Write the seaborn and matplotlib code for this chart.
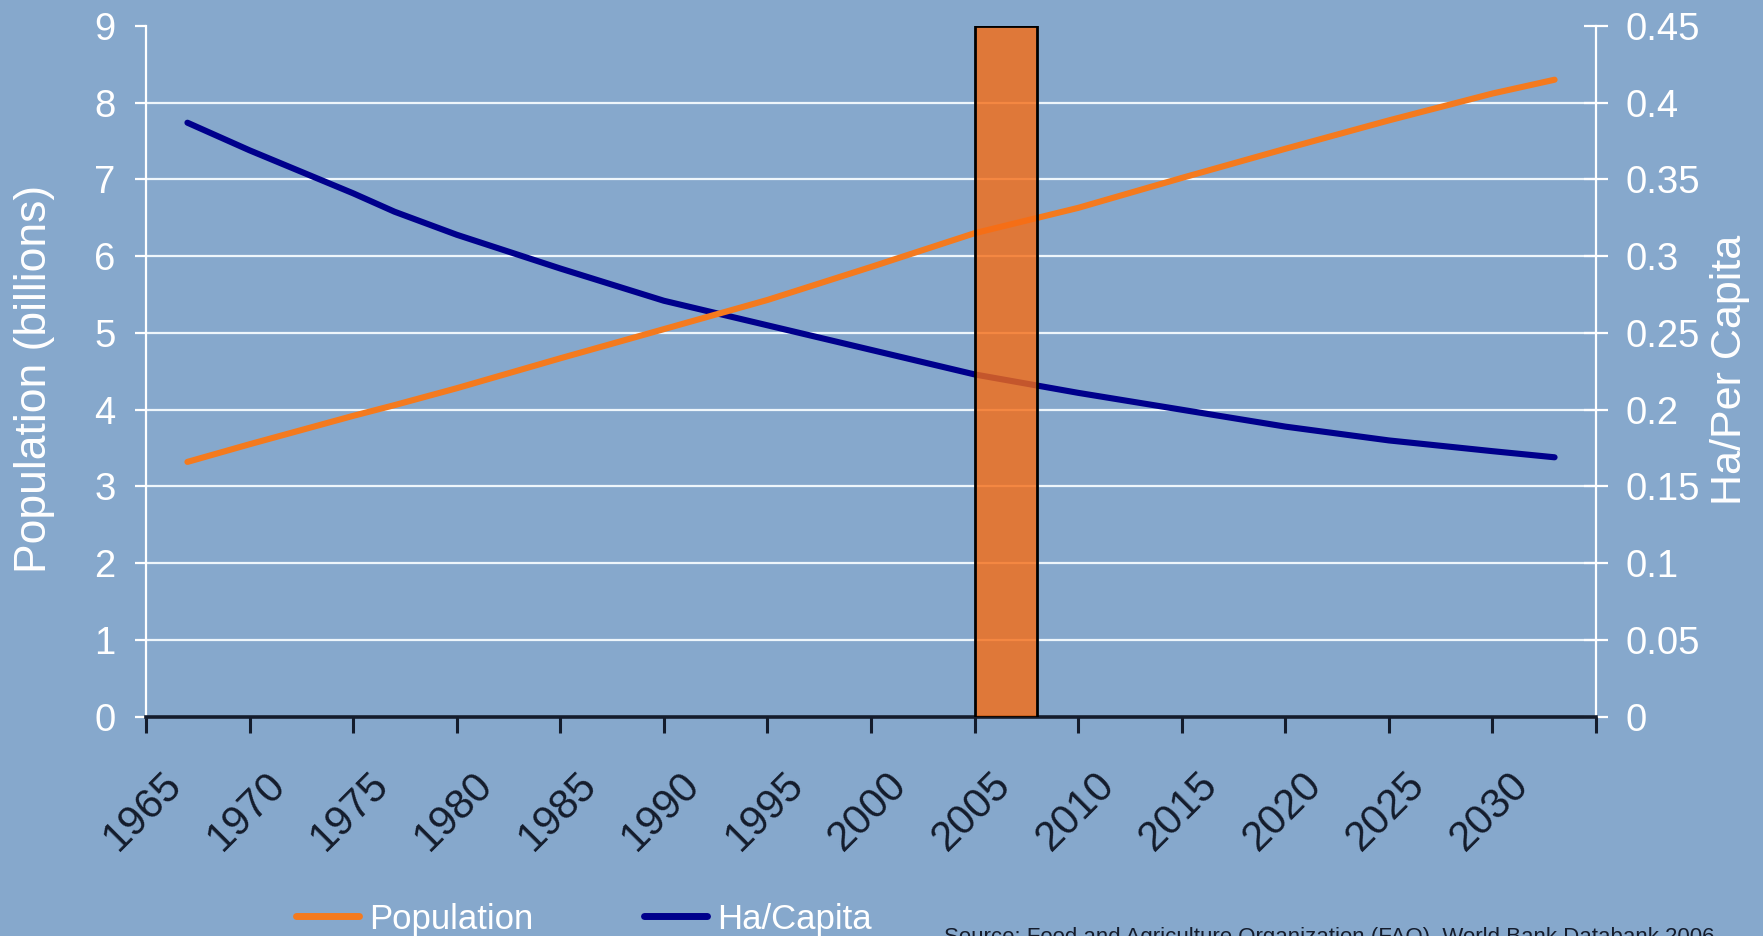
import numpy as np
import pandas as pd
import matplotlib
matplotlib.use("Agg")
import matplotlib.pyplot as plt
from matplotlib.lines import Line2D
from matplotlib.transforms import ScaledTranslation
import seaborn as sns

# ---- data -------------------------------------------------------------
years = [1967, 1970, 1975, 1977, 1980, 1985, 1990, 1995, 2000, 2005, 2010,
         2015, 2020, 2025, 2030, 2033]
population = [3.32, 3.55, 3.92, 4.06, 4.28, 4.67, 5.05, 5.43, 5.86, 6.30, 6.63,
              7.02, 7.40, 7.77, 8.12, 8.30]
ha_per_capita = [0.387, 0.369, 0.341, 0.329, 0.314, 0.292, 0.271, 0.255, 0.239,
                 0.223, 0.211, 0.200, 0.189, 0.180, 0.173, 0.169]

# highlighted period (left-axis units)
marker_start = 2005
marker_span = 3
marker_height = 9

tick_years = list(range(1965, 2036, 5))
tick_labels = [str(y) for y in range(1965, 2031, 5)] + [""]
left_ticks = list(range(0, 10))
right_ticks = [0, 0.05, 0.1, 0.15, 0.2, 0.25, 0.3, 0.35, 0.4, 0.45]

source_note = "Source: Food and Agriculture Organization (FAO), World Bank Databank 2006"

# ---- style ------------------------------------------------------------
BG = "#86A8CC"
ORANGE = "#F47A1E"
NAVY = "#00008C"
BAR = (0.965, 0.425, 0.08, 0.80)
DARK = "#141C2C"
GRID = "#EEF6FB"

sns.set_theme(style="white")
plt.rcParams["font.family"] = ["Liberation Sans", "DejaVu Sans"]

W, H = 1763, 936
fig = plt.figure(figsize=(W / 100, H / 100), dpi=100, facecolor=BG)

x0, x1, y_top, y_bot = 146, 1596, 26, 716.7
ax = fig.add_axes([x0 / W, 1 - y_bot / H, (x1 - x0) / W, (y_bot - y_top) / H])
ax2 = ax.twinx()

# right axis sits underneath and carries the grid; left axis on top
ax.set_zorder(2)
ax2.set_zorder(1)
ax.patch.set_visible(False)
ax2.patch.set_visible(False)

df = pd.DataFrame({"year": years, "population": population, "ha": ha_per_capita})

sns.lineplot(data=df, x="year", y="ha", ax=ax2, color=NAVY, linewidth=4.4,
             solid_capstyle="round", solid_joinstyle="round", legend=False)
sns.lineplot(data=df, x="year", y="population", ax=ax, color=ORANGE, linewidth=4.4,
             solid_capstyle="round", solid_joinstyle="round", legend=False, zorder=2)
ax.bar(marker_start, marker_height, width=marker_span, align="edge",
       color=BAR, edgecolor="black", linewidth=2, zorder=3)

# ---- axes -------------------------------------------------------------
ax.set_xlim(1965, 2035)
ax.set_ylim(0, 9)
ax2.set_ylim(0, 0.45)

ax.set_xticks(tick_years)
ax.set_xticklabels(tick_labels)
ax.set_yticks(left_ticks)
ax.set_yticklabels([str(v) for v in left_ticks])
ax2.set_yticks(right_ticks)
ax2.set_yticklabels([f"{v:g}" for v in right_ticks])

ax.set_xlabel("")
ax.set_ylabel("")
ax2.set_ylabel("")
ax.grid(False)
ax2.grid(False)
ax2.yaxis.grid(True, color=GRID, linewidth=1.6)
ax2.set_axisbelow(True)
ygl = ax2.get_ygridlines()
ygl[-1].set_visible(False)
ygl[0].set_visible(False)

for s in ("top", "right"):
    ax.spines[s].set_visible(False)
for s in ("top", "left", "bottom"):
    ax2.spines[s].set_visible(False)
ax.spines["left"].set_color("white")
ax.spines["left"].set_linewidth(1.6)
ax.spines["bottom"].set_color(DARK)
ax.spines["bottom"].set_linewidth(2.6)
ax2.spines["right"].set_color("white")
ax2.spines["right"].set_linewidth(1.6)

ax.tick_params(axis="y", direction="out", length=8, width=1.6, color="white",
               labelcolor="white", labelsize=27.5, pad=14, left=True)
ax2.tick_params(axis="y", direction="inout", length=17, width=1.6, color="white",
                labelcolor="white", labelsize=27.5, pad=13, right=True)
ax.tick_params(axis="x", direction="out", length=11.5, width=2.2, color=DARK,
               labelcolor=DARK, labelsize=30, pad=33, bottom=True)

shift = ScaledTranslation(0.30, 0, fig.dpi_scale_trans)
for lbl in ax.get_xticklabels():
    lbl.set_rotation(45)
    lbl.set_rotation_mode("anchor")
    lbl.set_ha("right")
    lbl.set_va("center")
    lbl.set_transform(lbl.get_transform() + shift)

# ---- axis titles ------------------------------------------------------
fig.text(35 / W, 1 - 379 / H, "Population (billions)", rotation=90,
         ha="center", va="center", fontsize=32, color="white")
fig.text(1730 / W, 1 - 370 / H, "Ha/Per Capita", rotation=90,
         ha="center", va="center", fontsize=31, color="white")

# ---- legend & note ----------------------------------------------------
handles = [Line2D([], [], color=ORANGE, linewidth=5),
           Line2D([], [], color=NAVY, linewidth=5)]
fig.legend(handles, ["Population", "Ha/Capita"], loc="center left",
           bbox_to_anchor=(296 / W, 1 - 919 / H), ncol=2, frameon=False,
           fontsize=25, handlelength=1.8, handletextpad=0.3,
           columnspacing=3.2, borderpad=0, borderaxespad=0,
           labelcolor="white")

fig.text(944 / W, 1 - 927 / H, source_note, ha="left", va="top",
         fontsize=16, color=DARK)

fig.savefig("out.png", dpi=100, facecolor=BG)
